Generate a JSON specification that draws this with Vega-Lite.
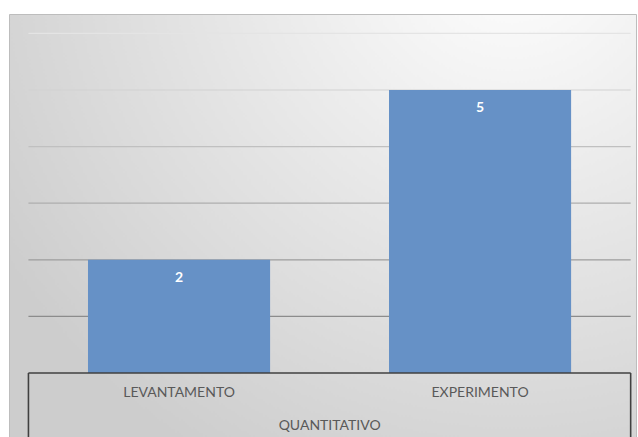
{
  "$schema": "https://vega.github.io/schema/vega-lite/v6.json",
  "width": 627,
  "height": 423,
  "autosize": {"type": "none"},
  "padding": {"left": 9, "top": 14, "right": 2, "bottom": 0},
  "background": "#ffffff",
  "view": {
    "stroke": "#bdbdbd",
    "strokeWidth": 1,
    "fill": {
      "gradient": "radial",
      "x1": 0.8, "y1": 0.05, "r1": 0,
      "x2": 0.8, "y2": 0.05, "r2": 0.95,
      "stops": [
        {"offset": 0, "color": "#ffffff"},
        {"offset": 1, "color": "#cdcdcd"}
      ]
    }
  },
  "config": {"font": "Lato"},
  "datasets": {
    "bars": [
      {"tipo": "LEVANTAMENTO", "valor": 2},
      {"tipo": "EXPERIMENTO", "valor": 5}
    ],
    "grid": [{"g": 1}, {"g": 2}, {"g": 3}, {"g": 4}, {"g": 5}, {"g": 6}],
    "one": [{"k": 0}]
  },
  "layer": [
    {
      "data": {"name": "grid"},
      "mark": {"type": "rule", "strokeWidth": 1.2},
      "encoding": {
        "x": {
          "datum": "LEVANTAMENTO", "bandPosition": -0.327, "type": "nominal",
          "scale": {"type": "band", "domain": ["LEVANTAMENTO", "EXPERIMENTO"], "paddingInner": 0.395, "paddingOuter": 0.239, "align": 0.549},
          "axis": null
        },
        "x2": {"datum": "EXPERIMENTO", "bandPosition": 1.327},
        "y": {
          "field": "g", "type": "quantitative",
          "scale": {"domain": [-1.131, 6.343], "nice": false, "zero": false},
          "axis": null
        },
        "color": {
          "field": "g", "type": "quantitative",
          "scale": {"domain": [1, 6], "range": ["#8c8c8c", "#e4e4e4"]},
          "legend": null
        }
      }
    },
    {
      "data": {"name": "bars"},
      "mark": {"type": "bar", "color": "#6691c6"},
      "encoding": {
        "x": {"field": "tipo", "type": "nominal", "sort": null, "axis": null},
        "y": {"field": "valor", "type": "quantitative", "axis": null},
        "y2": {"datum": 0}
      }
    },
    {
      "data": {"name": "bars"},
      "mark": {"type": "text", "color": "#ffffff", "fontWeight": "bold", "fontSize": 14, "baseline": "middle", "dy": 18},
      "encoding": {
        "x": {"field": "tipo", "type": "nominal", "sort": null},
        "y": {"field": "valor", "type": "quantitative"},
        "text": {"field": "valor", "type": "quantitative"}
      }
    },
    {
      "data": {"name": "bars"},
      "mark": {"type": "text", "color": "#595959", "fontSize": 14, "baseline": "middle"},
      "encoding": {
        "x": {"field": "tipo", "type": "nominal", "sort": null},
        "y": {"datum": -0.353},
        "text": {"field": "tipo", "type": "nominal"}
      }
    },
    {
      "data": {"name": "one"},
      "mark": {"type": "rule", "color": "#404040", "strokeWidth": 1.6},
      "encoding": {
        "x": {"datum": "LEVANTAMENTO", "bandPosition": -0.327},
        "x2": {"datum": "EXPERIMENTO", "bandPosition": 1.327},
        "y": {"datum": 0}
      }
    },
    {
      "data": {"name": "one"},
      "mark": {"type": "rule", "color": "#404040", "strokeWidth": 1.6},
      "encoding": {
        "x": {"datum": "LEVANTAMENTO", "bandPosition": -0.327},
        "y": {"datum": 0},
        "y2": {"datum": -1.131}
      }
    },
    {
      "data": {"name": "one"},
      "mark": {"type": "rule", "color": "#404040", "strokeWidth": 1.6},
      "encoding": {
        "x": {"datum": "EXPERIMENTO", "bandPosition": 1.327},
        "y": {"datum": 0},
        "y2": {"datum": -1.131}
      }
    },
    {
      "data": {"name": "one"},
      "mark": {"type": "text", "color": "#595959", "fontSize": 14, "baseline": "middle"},
      "encoding": {
        "x": {"datum": "LEVANTAMENTO", "bandPosition": 1.327},
        "y": {"datum": -0.936},
        "text": {"value": "QUANTITATIVO"}
      }
    }
  ]
}
